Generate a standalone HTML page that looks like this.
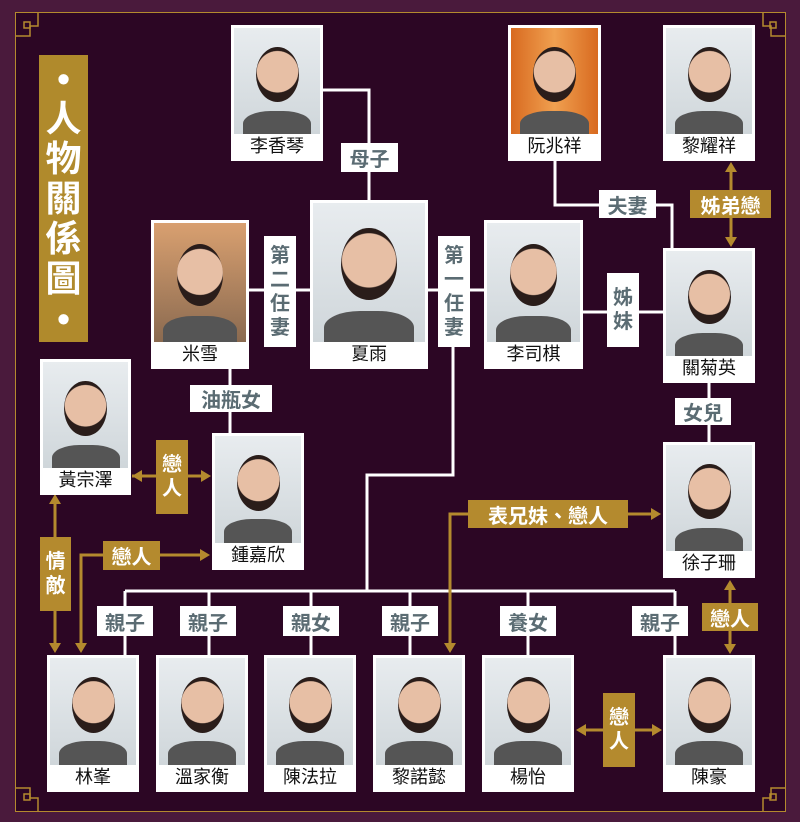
<!DOCTYPE html>
<html><head><meta charset="utf-8"><style>
*{margin:0;padding:0;box-sizing:border-box}
body{width:800px;height:822px;background:#4a1a3c;position:relative;overflow:hidden;font-family:"Liberation Sans","Noto Sans CJK TC",sans-serif}
#in{position:absolute;left:15px;top:12px;width:771px;height:800px;background:#2c0624;border:1.5px solid #b48a2e}
.c{position:absolute;background:#fff;padding:3px}
.c .p{width:100%;background:linear-gradient(180deg,#e8ecef,#cfd6da);position:relative;overflow:hidden}
.c .p:after{content:"";position:absolute;left:25%;top:18%;width:50%;height:52%;border-radius:50%;background:radial-gradient(circle at 50% 45%,#e7bfa5 55%,#2a1d1a 57%)}
.c .p:before{content:"";position:absolute;left:10%;bottom:-8%;width:80%;height:30%;border-radius:40% 40% 0 0;background:#555}
.c .n{text-align:center;font-size:18px;color:#111;line-height:24px}
.l{position:absolute;background:#fff;color:#5b6c73;font-weight:bold;font-size:20px;text-align:center;display:flex;align-items:center;justify-content:center}
.g{position:absolute;background:#b48a2e;color:#fff;font-weight:bold;font-size:20px;text-align:center;display:flex;align-items:center;justify-content:center}
.v{flex-direction:column;line-height:24px}
svg{position:absolute;left:0;top:0}
</style></head><body>
<div id="in"></div>
<svg width="800" height="822">
<g fill="none" stroke="#b48a2e" stroke-width="1.5">
<path d="M15 36 H30 V26 H38 V12"/><rect x="24" y="22" width="6" height="6"/>
<path d="M786 36 H771 V26 H763 V12"/><rect x="770" y="22" width="6" height="6"/>
<path d="M15 788 H30 V798 H38 V812"/><rect x="24" y="794" width="6" height="6"/>
<path d="M786 788 H771 V798 H763 V812"/><rect x="770" y="794" width="6" height="6"/>
</g>
<g fill="none" stroke="#fff" stroke-width="3">
<path d="M322 90 H369 V200"/>
<path d="M249 290 H310"/>
<path d="M428 290 H484"/>
<path d="M555 161 V205 H672 V248"/>
<path d="M583 312 H663"/>
<path d="M709 383 V442"/>
<path d="M230 369 V433"/>
<path d="M453 347 V475 H367 V591"/>
<path d="M125 591 H675"/>
<path d="M125 591 V655 M209 591 V655 M311 591 V655 M410 591 V655 M528 591 V655 M675 591 V655"/>
</g>
<g fill="none" stroke="#b48a2e" stroke-width="3">
<path d="M731 166 V243"/><path d="M132 476 H208"/><path d="M55 497 V650"/>
<path d="M81 650 V555 H205"/><path d="M450 650 V514 H656"/><path d="M730 584 V650"/><path d="M580 730 H658"/>
</g>
<g fill="#b48a2e">
<path d="M731 162 l-6 10 h12z"/><path d="M731 247 l-6 -10 h12z"/>
<path d="M132 476 l10 -6 v12z"/><path d="M211 476 l-10 -6 v12z"/>
<path d="M55 494 l-6 10 h12z"/><path d="M55 653 l-6 -10 h12z"/>
<path d="M81 653 l-6 -10 h12z"/><path d="M210 555 l-10 -6 v12z"/>
<path d="M450 653 l-6 -10 h12z"/><path d="M661 514 l-10 -6 v12z"/>
<path d="M730 580 l-6 10 h12z"/><path d="M730 654 l-6 -10 h12z"/>
<path d="M576 730 l10 -6 v12z"/><path d="M662 730 l-10 -6 v12z"/>
</g>
</svg>
<div class="g v" style="left:39px;top:55px;width:49px;height:287px;font-size:36px;line-height:40px;background:#b08a2c">•<br>人<br>物<br>關<br>係<br>圖<br>•</div>

<div class="c" style="left:231px;top:25px;width:92px;height:136px"><div class="p" style="height:106px"></div><div class="n">李香琴</div></div>
<div class="c" style="left:508px;top:25px;width:93px;height:136px"><div class="p" style="height:106px;background:linear-gradient(90deg,#d86a20,#f0a050,#d86a20)"></div><div class="n">阮兆祥</div></div>
<div class="c" style="left:663px;top:25px;width:92px;height:136px"><div class="p" style="height:106px"></div><div class="n">黎耀祥</div></div>
<div class="c" style="left:310px;top:200px;width:118px;height:169px"><div class="p" style="height:139px"></div><div class="n">夏雨</div></div>
<div class="c" style="left:151px;top:220px;width:98px;height:149px"><div class="p" style="height:119px;background:linear-gradient(#d9a070,#8a6a50)"></div><div class="n">米雪</div></div>
<div class="c" style="left:484px;top:220px;width:99px;height:149px"><div class="p" style="height:119px"></div><div class="n">李司棋</div></div>
<div class="c" style="left:663px;top:248px;width:92px;height:135px"><div class="p" style="height:105px"></div><div class="n">關菊英</div></div>
<div class="c" style="left:40px;top:359px;width:91px;height:136px"><div class="p" style="height:106px"></div><div class="n">黃宗澤</div></div>
<div class="c" style="left:212px;top:433px;width:92px;height:137px"><div class="p" style="height:107px"></div><div class="n">鍾嘉欣</div></div>
<div class="c" style="left:663px;top:442px;width:92px;height:136px"><div class="p" style="height:106px"></div><div class="n">徐子珊</div></div>
<div class="c" style="left:47px;top:655px;width:92px;height:137px"><div class="p" style="height:107px"></div><div class="n">林峯</div></div>
<div class="c" style="left:156px;top:655px;width:92px;height:137px"><div class="p" style="height:107px"></div><div class="n">溫家衡</div></div>
<div class="c" style="left:264px;top:655px;width:92px;height:137px"><div class="p" style="height:107px"></div><div class="n">陳法拉</div></div>
<div class="c" style="left:373px;top:655px;width:92px;height:137px"><div class="p" style="height:107px"></div><div class="n">黎諾懿</div></div>
<div class="c" style="left:482px;top:655px;width:92px;height:137px"><div class="p" style="height:107px"></div><div class="n">楊怡</div></div>
<div class="c" style="left:663px;top:655px;width:92px;height:137px"><div class="p" style="height:107px"></div><div class="n">陳豪</div></div>

<div class="l" style="left:341px;top:143px;width:57px;height:29px">母子</div>
<div class="l v" style="left:264px;top:236px;width:32px;height:111px">第<br>二<br>任<br>妻</div>
<div class="l v" style="left:438px;top:236px;width:32px;height:111px">第<br>一<br>任<br>妻</div>
<div class="l" style="left:599px;top:190px;width:57px;height:28px">夫妻</div>
<div class="g" style="left:690px;top:190px;width:81px;height:28px">姊弟戀</div>
<div class="l v" style="left:607px;top:273px;width:32px;height:74px">姊<br>妹</div>
<div class="l" style="left:675px;top:398px;width:56px;height:27px">女兒</div>
<div class="l" style="left:190px;top:385px;width:82px;height:27px">油瓶女</div>
<div class="g v" style="left:156px;top:440px;width:32px;height:74px">戀<br>人</div>
<div class="g v" style="left:40px;top:537px;width:31px;height:74px">情<br>敵</div>
<div class="g" style="left:103px;top:541px;width:57px;height:29px">戀人</div>
<div class="g" style="left:468px;top:500px;width:160px;height:28px">表兄妹、戀人</div>
<div class="g" style="left:702px;top:603px;width:56px;height:28px">戀人</div>
<div class="g v" style="left:603px;top:693px;width:32px;height:74px">戀<br>人</div>
<div class="l" style="left:97px;top:606px;width:56px;height:30px">親子</div>
<div class="l" style="left:180px;top:606px;width:56px;height:30px">親子</div>
<div class="l" style="left:283px;top:606px;width:56px;height:30px">親女</div>
<div class="l" style="left:382px;top:606px;width:56px;height:30px">親子</div>
<div class="l" style="left:500px;top:606px;width:56px;height:30px">養女</div>
<div class="l" style="left:632px;top:606px;width:56px;height:30px">親子</div>
</body></html>
